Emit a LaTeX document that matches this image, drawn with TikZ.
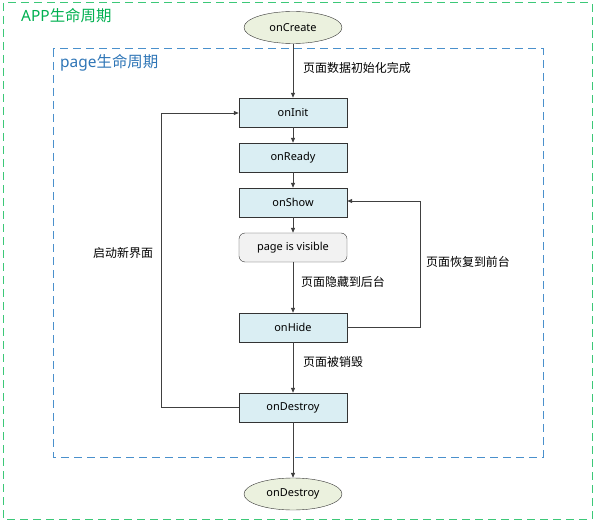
\documentclass[tikz,border=0pt]{standalone}
\usepackage{fontspec}
\setmainfont{Noto Sans}
\newfontfamily\cjk{Noto Sans CJK SC}
\usetikzlibrary{shapes.geometric,arrows.meta}
\definecolor{boxfill}{HTML}{DAEEF3}
\definecolor{ellfill}{HTML}{EBF1DE}
\definecolor{visfill}{HTML}{F2F2F2}
\definecolor{appgreen}{HTML}{00B050}
\definecolor{appdash}{HTML}{3CC878}
\definecolor{pageblue}{HTML}{2E75B6}
\definecolor{pagedash}{HTML}{4A90CC}
\begin{document}
\begin{tikzpicture}[x=1bp,y=-1bp,
  stepbox/.style={draw=black!80,fill=boxfill,minimum width=108bp,minimum height=29bp,inner sep=0pt,font=\fontsize{11}{13}\selectfont},
  visbox/.style={draw=black!80,fill=visfill,rounded corners=6bp,minimum width=108bp,minimum height=29bp,inner sep=0pt,font=\fontsize{11}{13}\selectfont},
  endell/.style={ellipse,draw=black!80,fill=ellfill,minimum width=98bp,minimum height=32bp,inner sep=0pt,font=\fontsize{11}{13}\selectfont},
  lab/.style={font=\cjk\fontsize{12}{14}\selectfont,inner sep=0pt},
  conn/.style={draw=black!75,line width=0.8pt,-{Triangle[length=5bp,width=4bp]}}
]
\useasboundingbox (0,0) rectangle (593,521);
\draw[appdash,line width=1pt,dash pattern=on 8bp off 5bp] (3,3) rectangle (592,519);
\draw[pagedash,line width=1pt,dash pattern=on 8bp off 5bp] (53,49) rectangle (543,457);
\node[anchor=west,text=appgreen,font=\fontsize{15.5}{18}\selectfont,inner sep=0pt] (applab) at (21,16) {APP{\cjk 生命周期}};
\node[anchor=west,text=pageblue,font=\fontsize{15.5}{18}\selectfont,inner sep=0pt] (pagelab) at (60,63) {page{\cjk 生命周期}};

\node[endell] (create) at (293,27.5) {onCreate};
\node[stepbox] (init) at (293,112.5) {onInit};
\node[stepbox] (ready) at (293,157.5) {onReady};
\node[stepbox] (show) at (293,202.5) {onShow};
\node[visbox] (vis) at (293,247.5) {page is visible};
\node[stepbox] (hide) at (293,327.5) {onHide};
\node[stepbox] (destroy) at (293,407.5) {onDestroy};
\node[endell] (dend) at (293,494) {onDestroy};

\draw[conn] (create) -- (init);
\draw[conn] (init) -- (ready);
\draw[conn] (ready) -- (show);
\draw[conn] (show) -- (vis);
\draw[conn] (vis) -- (hide);
\draw[conn] (hide) -- (destroy);
\draw[conn] (destroy) -- (dend);
\coordinate (lb) at (161,407.5);
\coordinate (lt) at (161,113);
\draw[conn] (destroy.west) -- (lb) -- (lt) -- (init.west |- lt);
\coordinate (rb) at (420,327.5);
\coordinate (rt) at (420,201);
\draw[conn] (hide.east) -- (rb) -- (rt) -- (show.east |- rt);

\node[lab,anchor=west] (l1) at (303,68) {页面数据初始化完成};
\node[lab,anchor=west] (l2) at (301,282) {页面隐藏到后台};
\node[lab,anchor=west] (l3) at (303,362) {页面被销毁};
\node[lab,anchor=west] (l4) at (426,262) {页面恢复到前台};
\node[lab,anchor=west] (l5) at (93,253) {启动新界面};
\end{tikzpicture}
\end{document}
